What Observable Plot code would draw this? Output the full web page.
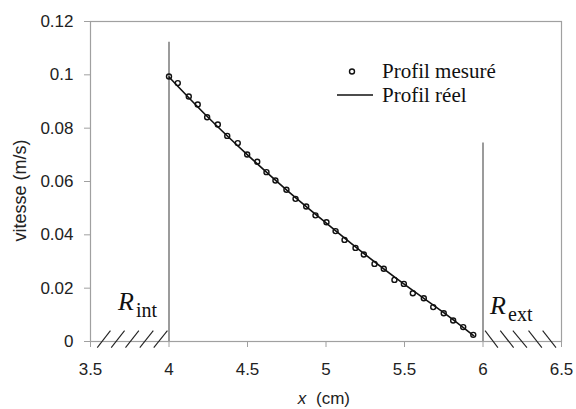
<!DOCTYPE html>
<html>
<head>
<meta charset="utf-8">
<script src="https://cdn.jsdelivr.net/npm/d3@7"></script>
<script src="https://cdn.jsdelivr.net/npm/@observablehq/plot@0.6"></script>
<style>
  html, body { margin: 0; padding: 0; background: #fff; }
  #wrap { position: relative; width: 576px; height: 409px; }
  #legend { position: absolute; left: 0; top: 0; font-family: "Liberation Serif", "Times New Roman", serif; font-size: 21px; color: #111; }
  #legend .row { position: absolute; white-space: nowrap; height: 22px; }
  #legend .row span { position: absolute; top: 0; display: block; height: 22px; line-height: 22px; }
</style>
</head>
<body>
<div id="wrap"></div>
<script>
// Measured profile (circles)
const measX = [4.000, 4.056, 4.126, 4.183, 4.243, 4.311, 4.371, 4.438, 4.498, 4.562,
               4.621, 4.678, 4.748, 4.806, 4.874, 4.933, 5.003, 5.061, 5.118, 5.188,
               5.241, 5.309, 5.368, 5.436, 5.496, 5.553, 5.623, 5.683, 5.750, 5.810, 5.874, 5.938];
const measY = [0.0994, 0.0969, 0.0919, 0.0889, 0.0841, 0.0814, 0.0771, 0.0744, 0.0701, 0.0674,
               0.0635, 0.0604, 0.0569, 0.0535, 0.0506, 0.0473, 0.0447, 0.0414, 0.0381, 0.0351,
               0.0326, 0.0291, 0.0273, 0.0231, 0.0216, 0.0181, 0.0162, 0.0129, 0.0106, 0.0079, 0.0054, 0.0025];
// Real profile (line)
const realX = [4.00, 4.25, 4.50, 4.75, 5.00, 5.25, 5.50, 5.75, 5.94];
const realY = [0.0992, 0.0840, 0.0700, 0.0568, 0.0445, 0.0326, 0.0214, 0.0108, 0.0022];
// Walls (inner / outer radius)
const wallX = [4, 6];
const wallTop = [0.1122, 0.0744];
const wallMain = ["R", "R"];
const wallSub = ["int", "ext"];
// Hatching under the walls
const hatchLeftFrom = [3.543, 3.632, 3.723, 3.814, 3.903];
const hatchLeftTo   = [3.627, 3.717, 3.808, 3.900, 3.990];
const hatchRightFrom = [6.013, 6.110, 6.190, 6.290, 6.380];
const hatchRightTo   = [6.095, 6.195, 6.280, 6.375, 6.465];
// Ticks
const xTicks = [3.5, 4, 4.5, 5, 5.5, 6, 6.5];
const xTickLabels = ["3.5", "4", "4.5", "5", "5.5", "6", "6.5"];
const yTicks = [0, 0.02, 0.04, 0.06, 0.08, 0.1, 0.12];
const yTickLabels = ["0", "0.02", "0.04", "0.06", "0.08", "0.1", "0.12"];
const legendLabels = ["Profil mesuré", "Profil réel"];
const yTitle = "vitesse (m/s)";
const xTitleVar = "x";
const xTitleUnit = "(cm)";

const meas = measX.map((x, i) => ({x, y: measY[i]}));
const real = realX.map((x, i) => ({x, y: realY[i]}));
const walls = wallX.map((x, i) => ({x, top: wallTop[i], main: wallMain[i], sub: wallSub[i]}));
const hatchL = hatchLeftFrom.map((x, i) => ({x1: x, x2: hatchLeftTo[i]}));
const hatchR = hatchRightFrom.map((x, i) => ({x1: x, x2: hatchRightTo[i]}));
const hatchLow = -0.0023, hatchHigh = 0.0041;

const sans = "Liberation Sans, Arial, sans-serif";
const serif = "Liberation Serif, Times New Roman, serif";

const chart = Plot.plot({
  width: 576,
  height: 409,
  marginLeft: 90,
  marginRight: 15,
  marginTop: 21,
  marginBottom: 68,
  style: {fontFamily: sans, fontSize: "17px", color: "#222", background: "#fff"},
  x: {domain: [3.5, 6.5], axis: null},
  y: {domain: [0, 0.12], axis: null},
  marks: [
    Plot.frame({stroke: "#a0a0a0", strokeWidth: 1.2}),
    Plot.axisX({ticks: xTicks, tickFormat: (d) => xTickLabels[xTicks.indexOf(d)], tickSize: 6, tickPadding: 15, stroke: "#a0a0a0", fill: "#222", label: null, fontSize: 17}),
    Plot.axisY({ticks: yTicks, tickFormat: (d) => yTickLabels[yTicks.indexOf(d)], tickSize: 6, tickPadding: 11, stroke: "#a0a0a0", fill: "#222", label: null, fontSize: 17}),
    Plot.ruleX(walls, {x: "x", y1: 0, y2: "top", stroke: "#7a7a7a", strokeWidth: 1.5}),
    Plot.link(hatchL, {x1: "x1", x2: "x2", y1: hatchLow, y2: hatchHigh, stroke: "#222", strokeWidth: 1.1, clip: false}),
    Plot.link(hatchR, {x1: "x2", x2: "x1", y1: hatchLow, y2: hatchHigh, stroke: "#222", strokeWidth: 1.1, clip: false}),
    Plot.line(real, {x: "x", y: "y", curve: "monotone-x", stroke: "#111", strokeWidth: 1.6}),
    Plot.dot(meas, {x: "x", y: "y", r: 2.5, stroke: "#111", strokeWidth: 1.4, fill: "none"}),
    // R_int (left of the inner wall)
    Plot.text(walls.slice(0, 1), {x: "x", y: 0, text: "main", textAnchor: "start", lineAnchor: "bottom", dx: -51, dy: -32, fontFamily: serif, fontStyle: "italic", fontSize: 26, fill: "#111"}),
    Plot.text(walls.slice(0, 1), {x: "x", y: 0, text: "sub", textAnchor: "start", lineAnchor: "bottom", dx: -33, dy: -25, fontFamily: serif, fontSize: 20, fill: "#111"}),
    // R_ext (right of the outer wall)
    Plot.text(walls.slice(1), {x: "x", y: 0, text: "main", textAnchor: "start", lineAnchor: "bottom", dx: 7, dy: -28, fontFamily: serif, fontStyle: "italic", fontSize: 26, fill: "#111"}),
    Plot.text(walls.slice(1), {x: "x", y: 0, text: "sub", textAnchor: "start", lineAnchor: "bottom", dx: 25, dy: -21, fontFamily: serif, fontSize: 20, fill: "#111"}),
    Plot.text([yTitle], {frameAnchor: "left", textAnchor: "middle", rotate: -90, dx: -70, dy: 9, fontSize: 18, fill: "#222"}),
    Plot.text([xTitleVar], {frameAnchor: "bottom", dx: -24, dy: 62, fontStyle: "italic", fontSize: 17, fill: "#222"}),
    Plot.text([xTitleUnit], {frameAnchor: "bottom", dx: 7, dy: 62, fontSize: 17, fill: "#222"})
  ]
});

const wrap = document.getElementById("wrap");
wrap.appendChild(chart);

// Legend (HTML overlay)
const legend = document.createElement("div");
legend.id = "legend";
legend.innerHTML = `
  <div class="row" style="left:346px; top:60px;">
    <svg width="30" height="22" style="position:absolute; left:0; top:0;"><circle cx="6" cy="11.5" r="2.5" fill="none" stroke="#111" stroke-width="1.4"/></svg>
    <span style="left:36px;">${legendLabels[0]}</span>
  </div>
  <div class="row" style="left:337px; top:84px;">
    <svg width="40" height="22" style="position:absolute; left:0; top:0;"><line x1="0" x2="36" y1="11" y2="11" stroke="#111" stroke-width="1.6"/></svg>
    <span style="left:45px;">${legendLabels[1]}</span>
  </div>`;
wrap.appendChild(legend);
</script>
</body>
</html>
